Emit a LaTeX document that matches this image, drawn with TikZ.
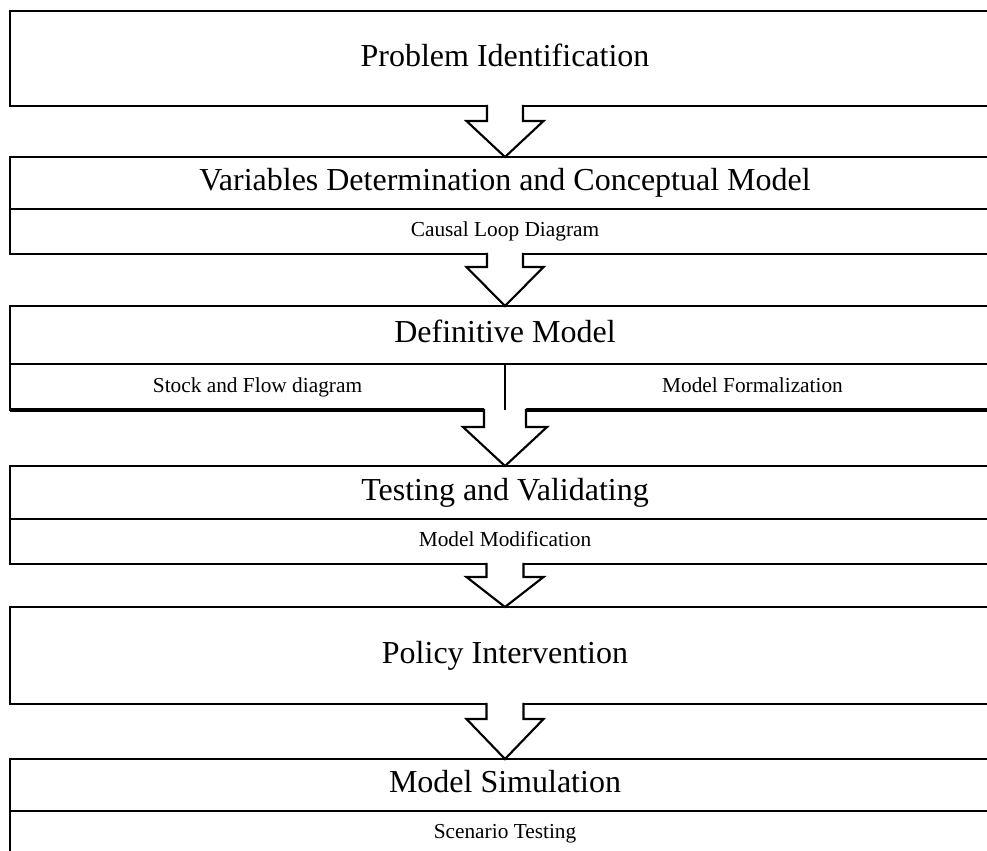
\documentclass[tikz,border=0pt]{standalone}
\usepackage{fontspec}
\setmainfont{Liberation Serif}
\usetikzlibrary{calc}

% Hollow block arrow hanging from #1 down to #2:
% #3 half shaft width, #4 half head width, #5 shaft length (all in px units)
\newcommand\flowarrow[5]{%
  \fill[white] ($(#1)+(-#3,-1.8)$) -- ($(#1)+(-#3,#5)$) -- ($(#1)+(-#4,#5)$)
    -- (#2) -- ($(#1)+(#4,#5)$) -- ($(#1)+(#3,#5)$) -- ($(#1)+(#3,-1.8)$) -- cycle;
  \draw[arrowline] ($(#1)+(-#3,0)$) -- ($(#1)+(-#3,#5)$) -- ($(#1)+(-#4,#5)$)
    -- (#2) -- ($(#1)+(#4,#5)$) -- ($(#1)+(#3,#5)$) -- ($(#1)+(#3,0)$);
}

\begin{document}
\begin{tikzpicture}[x=0.75pt,y=-0.75pt,
  box/.style={draw,line width=2pt,rectangle,inner sep=0pt,outer sep=0pt,
              minimum width=742.5pt},
  halfbox/.style={box,minimum width=371.25pt},
  head/.style={font=\fontsize{24}{28}\selectfont,text height=16.5pt,text depth=5pt},
  sub/.style={font=\fontsize{16}{19}\selectfont,text height=11pt,text depth=3.5pt},
  arrowline/.style={line width=1.6pt,line join=miter,line cap=rect}
]
\useasboundingbox (0,0) rectangle (987,850);
\clip (0,0) rectangle (987,850);

% stage boxes
\node[box,head,minimum height={95*0.75pt}] (b1) at (505,58.5) {Problem Identification};

\node[box,head,minimum height={52*0.75pt}] (b2) at (505,183) {Variables Determination and Conceptual Model};
\node[box,sub,minimum height={45*0.75pt}] (b2s) at (505,231.5) {Causal Loop Diagram};

\node[box,head,minimum height={58*0.75pt}] (b3) at (505,335) {Definitive Model};
\node[halfbox,sub,minimum height={46*0.75pt}] (b3l) at (257.5,387) {Stock and Flow diagram};
\node[halfbox,sub,minimum height={46*0.75pt}] (b3r) at (752.5,387) {Model Formalization};
\draw[line width=2.6pt] (b3l.south west) -- (b3r.south east);

\node[box,head,minimum height={53*0.75pt}] (b4) at (505,492.5) {Testing and Validating};
\node[box,sub,minimum height={45*0.75pt}] (b4s) at (505,541.5) {Model Modification};

\node[box,head,minimum height={97*0.75pt}] (b5) at (505,655.5) {Policy Intervention};

\node[box,head,minimum height={52*0.75pt}] (b6) at (505,785) {Model Simulation};
\node[box,sub,minimum height={45*0.75pt}] (b6s) at (505,833.5) {Scenario Testing};

% connecting block arrows
\flowarrow{b1.south}{b2.north}{18}{38.5}{15}
\flowarrow{b2s.south}{b3.north}{18}{38.5}{13}
\flowarrow{b3l.south east}{b4.north}{21}{42}{17}
\flowarrow{b4s.south}{b5.north}{18.5}{38.5}{13}
\flowarrow{b5.south}{b6.north}{18.5}{38.5}{15}

% divider between the two halves runs down to the shaft
\draw[line width=2pt] (b3l.north east) -- (b3l.south east);
\end{tikzpicture}
\end{document}
